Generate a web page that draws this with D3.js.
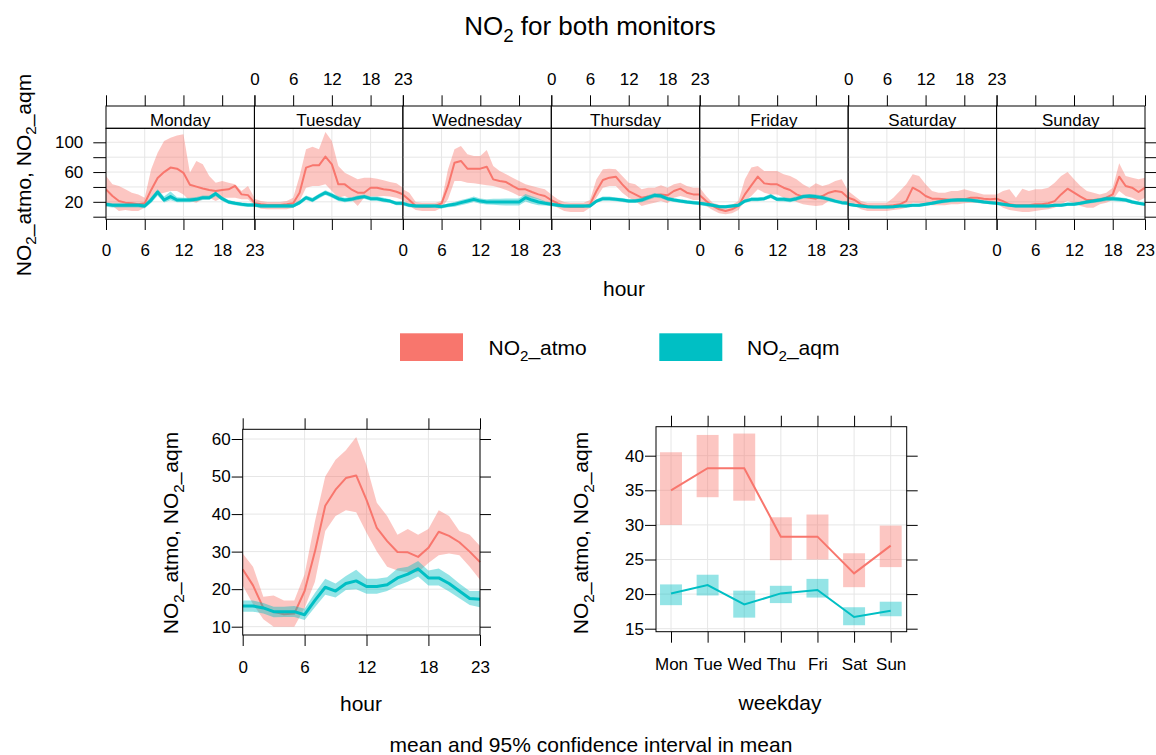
<!DOCTYPE html>
<html>
<head>
<meta charset="utf-8">
<title>NO2 for both monitors</title>
<script src="https://d3js.org/d3.v7.min.js"></script>
<style>
  * { margin: 0; padding: 0; }
  body { background: #fff; }
  svg { display: block; font-family: "Liberation Sans", Arial, sans-serif; }
</style>
</head>
<body>
<div id="chart"></div>
<script>
// ---- data ----
const days = ["Monday", "Tuesday", "Wednesday", "Thursday", "Friday", "Saturday", "Sunday"];
const dayAbbr = ["Mon", "Tue", "Wed", "Thu", "Fri", "Sat", "Sun"];
const hourTicks = [0, 6, 12, 18, 23];
const seriesNames = ["atmo", "aqm"];
const colors = { atmo: "#F8766D", aqm: "#00BFC4" };

// hour-of-week: one row of 24 hourly values per weekday
const atmoMean = [
  [36.8,27.8,21,18.9,18,16.6,18,36,52,60,66,64.6,59,43,40.4,38,35.9,34.5,35.9,36.8,41.3,30,29,18.9],
  [18,16.6,15.7,15.7,15.7,16.6,18,32.3,65.9,69,69,80.7,70.4,43.5,43.5,36.8,32.3,32.3,39,39,36.8,35.9,33.6,30],
  [30,22.4,14.4,13.5,13.5,14.4,18,41.3,72.6,74.9,64.6,64.6,64.6,67.2,50.2,48,46.6,41.3,36.8,36.8,33.2,30,27.8,22.4],
  [22.4,18,14.4,13.5,13.5,13.5,16.6,34.5,49.3,52.5,53.8,43.5,34.5,30,25.6,27,28.7,30,28.7,34.5,37.7,32.3,30,30],
  [28.7,21,14.4,9.9,7.7,9.9,14.4,30,42.2,53.8,44.8,43.5,43.5,39,35.9,30,27,25.6,24.2,27.8,32.3,34.5,33.2,25.6],
  [25.6,22.4,16.6,14.4,13.5,13.5,14.4,15.3,16.6,21,39,34.5,27.8,24.2,24.2,23.3,22.4,23.3,23.3,25.6,25.6,24.2,23.3,24.2],
  [24.2,21,16.6,15.3,15.3,15.3,16.6,16.6,18,21,30,37.7,32.3,27,22.4,22.4,23.3,25.6,30,53.8,41.3,39,33.2,39]
];
const atmoLo = [
  [18.9,14.4,7.7,9,7.7,7.7,12.1,21,30,32.3,34.5,34.5,30,21,18.9,23.3,25.6,21,25.6,25.6,25.6,23.3,23.3,15.3],
  [14.4,10.8,9.9,9.9,9.9,9.9,12.1,21,39,41.3,41.3,43.5,34.5,25.6,27.8,23.3,14.4,25.6,27,27,27.8,27,25.6,22.4],
  [23.3,14.4,9,7.7,7.7,7.7,12.1,23.3,48,48,45.7,45,43.5,42.2,41.3,39,35.9,32.3,27.8,27,25.6,23.3,19.8,15.3],
  [16.6,12.1,7.7,6.3,6.3,6.3,12.1,25.6,39,41.3,41.3,32.3,25.6,21,14.4,16.6,18.9,21,18,25.6,27.8,25.6,22.4,22.4],
  [21,14.4,9,4.5,3.2,4.5,9,21,27.8,36.8,32.3,30,30,25.6,23.3,19.8,16.6,15.3,14.4,15.3,21,23.3,21,18],
  [18,14.4,9.9,7.7,7.7,7.7,7.7,9,9.9,12.1,18.9,18,16.6,15.3,15.3,15.3,16.6,16.6,18,18.9,18.9,18,18,18],
  [18,12.1,9,7.7,6.3,6.3,7.7,9,9.9,12.1,16.6,21,18,14.4,12.1,12.1,16.6,18.9,22.4,34.5,27.8,25.6,21,25.6]
];
const atmoHi = [
  [54.7,43.5,41.3,36.8,32.3,30,25.6,63.7,86,101.7,106,109,110.7,59,74.9,70.4,54.7,45.7,48,45.7,43.5,34.5,41.3,25.6],
  [24.2,21,19.8,19.8,19.8,21,25.6,54.7,90.5,94,90.5,113.8,101.7,68.1,59,54.7,50.2,52.5,52.5,51.1,48.9,46.6,44.8,39],
  [36.8,32.3,19.8,18.9,18.9,18.9,21,63.7,90.5,95,83.8,81.6,81.6,89.6,68.1,61.4,56.9,52.5,48,43.5,41.3,39,36.8,30],
  [30,23.3,19.8,18.9,18.9,18.9,22.4,50.2,63.7,64.6,63.7,54.7,45.7,43.5,36.8,39,39,42.2,39,43.5,45.7,41.3,39,39],
  [39,27.8,18.9,16,14.4,16,21,50.2,66,68.1,61.4,61.4,61.4,56.9,54.7,50.2,43.5,39,44.8,41.3,43.5,48,50.2,34.5],
  [34.5,27.8,21,18.9,18.9,18.9,18.9,25.6,34.5,43.5,56.9,54.7,43.5,34.5,32.3,32.3,34.5,34.5,36.8,34.5,32.3,30,30,30],
  [30,34.5,36.8,25.6,37.7,34.5,36.8,36.8,39,45.7,54.7,60.1,50.2,41.3,34.5,32.3,30,32.3,39,71.7,54.7,52.5,50.2,52.5]
];
const aqmMean = [
  [16.6,15.3,15.3,15.3,15.3,15.3,14.4,22.4,33.2,22.4,27,22.4,22.4,22.4,23.3,25.6,25.6,31,24.2,19.8,18,16.6,15.7,15.7],
  [15.7,14.4,14.4,14.4,14.4,14.4,14.4,18.9,25.6,22.4,27.8,32.3,28.7,24.2,22.4,23.3,25.6,27,24.2,24.2,22.4,21,18,18],
  [18,15.3,14.4,14.4,14.4,14.4,13.5,15.3,16.6,18.9,21,23.3,21,19.8,19.8,19.8,19.8,19.8,19.8,25.6,22.4,19.8,18,16.6],
  [16.6,15.3,14.4,14.4,14.4,14.4,14.4,21,24.2,24.2,23.3,22.4,21,21,22.4,25.6,28.7,27.8,24.2,22.4,21,19.8,18.9,18],
  [18,16.6,15.3,13.5,13.5,14.4,15.3,21,23.3,23.3,24.2,27.8,23.3,23.3,22.4,24.2,27,27.8,27,25.6,23.3,21,18.9,18],
  [16.6,15.3,14.4,13.5,13,13,13,13.5,14.4,14.4,15.3,15.3,16.6,18,19.8,21,22,22.4,22.4,22,21,19.8,18.9,18],
  [18,16.6,15.3,14.4,14.4,14.4,14.4,14.4,14.4,15.3,15.3,16.6,16.6,18,19.8,21,22.4,24.2,24.2,23.3,22.4,19.8,18,16.6]
];
const aqmLo = [
  [13.5,12.5,12.5,12.5,12.5,12.5,11.5,18.5,28,19,22,19.5,19.5,19.5,20.5,22.5,22.5,27.5,21,17,15.5,14,13,13],
  [13,12,12,12,12,12,12,16,22.5,19.5,24.5,29,25.5,21,19.5,20.5,22.5,24,21.5,21.5,19.5,18.5,15.5,15.5],
  [15,12.8,12,12,12,12,11,12.8,13.5,15.5,17.5,19.8,17.5,16.5,16,15.5,15.2,15,15,20.5,17.5,15.5,15,14],
  [14,13,12,12,12,12,12,18.5,21.5,21.5,20.8,19.8,18.5,18.3,19.5,22.5,25.5,24.8,21.5,19.8,18.5,17.3,16.5,15.5],
  [15.5,14.2,13,11.3,11.3,12.1,13,18.5,20.8,20.8,21.7,24.8,20.8,20.5,19.5,21.4,24.2,25,24.2,22.8,20.6,18.5,16.4,15.5],
  [14.4,13.2,12.3,11.5,11,11,11,11.5,12.3,12.3,13.2,13.2,14.4,15.6,17.3,18.4,19.3,19.7,19.7,19.4,18.5,17.4,16.6,15.8],
  [15.6,14.4,13.2,12.4,12.4,12.4,12.4,12.4,12.4,13.2,13.2,14.4,14.4,15.6,17.3,18.4,19.6,21.2,21.2,20.4,19.6,17.3,15.6,14.4]
];
const aqmHi = [
  [19.5,18,18,18,18,18,17.5,26.5,37,27,34,26,25.5,25.5,26.5,28.5,28.5,34,27,22.5,20.5,19.2,18.4,18.4],
  [18.5,17,17,17,17,17,17,22,28.5,25.5,31,35.5,32,27.5,25.5,26,28.5,30,27,27,25.5,23.5,20.5,20.5],
  [21,17.8,16.8,16.8,16.8,16.8,16,17.8,19.7,22.3,24.5,27,24.5,23.5,24,24.2,24.4,24.6,24.6,30.5,27.5,24.5,21,19.2],
  [19.2,17.6,16.8,16.8,16.8,16.8,16.8,23.5,27,27,25.8,25,23.5,23.7,25.3,28.7,31.9,30.8,26.9,25,23.5,22.3,21.3,20.5],
  [20.5,19,17.6,15.7,15.7,16.7,17.6,23.5,25.8,25.8,26.7,30.8,25.8,26.1,25.3,27,29.8,30.6,29.8,28.4,26,23.5,21.4,20.5],
  [18.8,17.4,16.5,15.5,15,15,15,15.5,16.5,16.5,17.4,17.4,18.8,20.4,22.3,23.6,24.7,25.1,25.1,24.6,23.5,22.2,21.2,20.2],
  [20.4,18.8,17.4,16.4,16.4,16.4,16.4,16.4,16.4,17.4,17.4,18.8,18.8,20.4,22.3,23.6,25.2,27.2,27.2,26.2,25.2,22.3,20.4,18.8]
];

// diurnal (hour of day)
const hourAtmoMean = [25.3,21,15,14,13.3,13.5,19.5,30,42.2,46.5,49.6,50.3,43.8,36.3,32.8,29.9,29.8,28.6,31,35.3,34.2,32.5,30,27.2];
const hourAtmoLo   = [21,16,12,10,10,10,15,22,35.5,39.5,41,40.5,35,30,26,25,24.5,24.5,27,29,29.5,29,26,22.5];
const hourAtmoHi   = [29.5,26,18,18.3,17,17,24,38,50,54.5,57,60.5,53,43,39.5,34.5,36,34.5,36,41,39.5,35.5,34.5,31.5];
const hourAqmMean  = [15.5,15.5,15,14,14,14,13.2,17,20.5,19.5,21.5,22.2,20.7,20.7,21.2,23,24,25.4,23,23,21.5,19.5,17.5,17.3];
const hourAqmLo    = [14,14,13.5,12.5,12.6,12.6,11.8,15.2,18.5,17.8,19.8,20,18.8,18.8,19.5,21,22,23.4,21,21,19.4,17.6,15.8,15.2];
const hourAqmHi    = [17,17,16.3,15.3,15.3,15.5,14.8,19,22.8,21.5,23.5,25.2,22.8,22.8,23.2,25.5,26,27.5,25,25.5,23.8,21.5,19.5,19.5];

// weekday means
const wdAtmoMean = [35, 38.2, 38.2, 28.3, 28.3, 23, 27];
const wdAtmoLo   = [30, 34, 33.5, 24.9, 25, 21, 23.9];
const wdAtmoHi   = [40.5, 43, 43.2, 31.1, 31.5, 25.9, 29.9];
const wdAqmMean  = [20.1, 21.3, 18.5, 20.1, 20.6, 16.7, 17.6];
const wdAqmLo    = [18.4, 19.8, 16.6, 18.7, 19.5, 15.5, 16.8];
const wdAqmHi    = [21.4, 22.8, 20.5, 21.2, 22.2, 18.1, 18.9];

// ---- drawing ----
const W = 1156, H = 755;
const TICK_FS = 17, LAB_FS = 21;
const GRID = "#e6e6e6";
const BAND_OPACITY = 0.42;

const svg = d3.select("#chart").append("svg")
  .attr("width", W).attr("height", H);

// text with NO2-style subscripts; parts: [text, isSub]
function richText(sel, parts, fs) {
  let shifted = false;
  parts.forEach(([t, sub]) => {
    const ts = sel.append("tspan").text(t);
    if (sub) {
      ts.attr("font-size", fs * 0.72).attr("dy", fs * 0.28);
      shifted = true;
    } else if (shifted) {
      ts.attr("dy", -fs * 0.28);
      shifted = false;
    }
  });
  return sel;
}
const yLabParts = [["NO"], ["2", true], ["_atmo, NO"], ["2", true], ["_aqm"]];

function styleAxis(g) {
  g.select(".domain").remove();
  g.selectAll(".tick line").attr("stroke", "#000");
  g.selectAll(".tick text").attr("fill", "#000").attr("font-size", TICK_FS)
    .attr("font-family", "Liberation Sans, Arial, sans-serif");
}

function drawSeries(g, xs, ys, mean, lo, hi, color, lw) {
  const area = d3.area()
    .x((d, i) => xs(i)).y0((d, i) => ys(lo[i])).y1((d, i) => ys(hi[i]));
  const line = d3.line().x((d, i) => xs(i)).y(d => ys(d));
  g.append("path").datum(mean).attr("d", area)
    .attr("fill", color).attr("fill-opacity", BAND_OPACITY).attr("stroke", "none");
  g.append("path").datum(mean).attr("d", line)
    .attr("fill", "none").attr("stroke", color).attr("stroke-width", lw)
    .attr("stroke-linejoin", "round");
}

// title
richText(svg.append("text").attr("x", 590).attr("y", 35).attr("text-anchor", "middle")
  .attr("font-size", 26), [["NO"], ["2", true], [" for both monitors"]], 26);

// ===== top: hour of week =====
const TL = 106, TR = 1145, STRIP_T = 106, PT = 128.3, PB = 219.3;
const pw = (TR - TL) / 7;
const topY = d3.scaleLinear().domain([0, 100]).range([216.7, 142.3]);
const topYTicks = [0, 20, 40, 60, 80, 100];
const weekData = { atmo: [atmoMean, atmoLo, atmoHi], aqm: [aqmMean, aqmLo, aqmHi] };

days.forEach((day, i) => {
  const x0 = TL + i * pw;
  const xs = d3.scaleLinear().domain([0, 23]).range([x0, x0 + pw]);
  const g = svg.append("g");

  g.selectAll(".hg").data(topYTicks).join("line")
    .attr("x1", x0).attr("x2", x0 + pw)
    .attr("y1", d => topY(d)).attr("y2", d => topY(d))
    .attr("stroke", GRID);
  g.selectAll(".vg").data(hourTicks).join("line")
    .attr("x1", d => xs(d)).attr("x2", d => xs(d))
    .attr("y1", PT).attr("y2", PB)
    .attr("stroke", GRID);

  const clipId = "clip" + i;
  svg.append("clipPath").attr("id", clipId).append("rect")
    .attr("x", x0).attr("y", PT).attr("width", pw).attr("height", PB - PT);
  const dg = g.append("g").attr("clip-path", `url(#${clipId})`);
  seriesNames.forEach(s => {
    const [m, lo, hi] = weekData[s];
    drawSeries(dg, xs, topY, m[i], lo[i], hi[i], colors[s], s === "aqm" ? 3 : 2);
  });

  // strip
  const sId = "sclip" + i;
  svg.append("clipPath").attr("id", sId).append("rect")
    .attr("x", x0).attr("y", STRIP_T).attr("width", pw).attr("height", PT - STRIP_T);
  g.append("text").attr("clip-path", `url(#${sId})`)
    .attr("x", x0 + pw / 2).attr("y", 126).attr("text-anchor", "middle")
    .attr("font-size", TICK_FS).attr("fill", "#000").text(day);
  g.append("rect").attr("x", x0).attr("y", STRIP_T).attr("width", pw).attr("height", PT - STRIP_T)
    .attr("fill", "none").attr("stroke", "#000");
  g.append("rect").attr("x", x0).attr("y", PT).attr("width", pw).attr("height", PB - PT)
    .attr("fill", "none").attr("stroke", "#000");

  // x axes: labels alternate bottom / top
  g.append("g").attr("transform", `translate(0,${PB})`)
    .call(d3.axisBottom(xs).tickValues(hourTicks).tickSize(10.7).tickPadding(14)
      .tickFormat(d => i % 2 === 0 ? d : ""))
    .call(styleAxis);
  g.append("g").attr("transform", `translate(0,${STRIP_T})`)
    .call(d3.axisTop(xs).tickValues(hourTicks).tickSize(10.7).tickPadding(10)
      .tickFormat(d => i % 2 === 1 ? d : ""))
    .call(styleAxis);
});

svg.append("g").attr("transform", `translate(${TL},0)`)
  .call(d3.axisLeft(topY).tickValues(topYTicks).tickSize(12.7).tickPadding(10)
    .tickFormat(d => [20, 60, 100].includes(d) ? d : ""))
  .call(styleAxis);
svg.append("g").attr("transform", `translate(${TR},0)`)
  .call(d3.axisRight(topY).tickValues(topYTicks).tickSize(11).tickFormat(""))
  .call(styleAxis);

richText(svg.append("text").attr("transform", "translate(30.5,175) rotate(-90)")
  .attr("text-anchor", "middle").attr("font-size", LAB_FS), yLabParts, LAB_FS);
svg.append("text").attr("x", 624).attr("y", 296).attr("text-anchor", "middle")
  .attr("font-size", LAB_FS).text("hour");

// ===== legend =====
const legX = { atmo: [400, 488.5], aqm: [659.3, 747] };
seriesNames.forEach(s => {
  svg.append("rect").attr("x", legX[s][0]).attr("y", 333.3).attr("width", 63).attr("height", 27.7)
    .attr("fill", colors[s]);
  richText(svg.append("text").attr("x", legX[s][1]).attr("y", 355).attr("font-size", LAB_FS),
    [["NO"], ["2", true], ["_" + s]], LAB_FS);
});

// ===== bottom-left: hour of day =====
const B = { l: 242.7, r: 480, t: 429.3, b: 635 };
const hx = d3.scaleLinear().domain([0, 23]).range([B.l, B.r]);
const hy = d3.scaleLinear().domain([10, 60]).range([626.7, 439]);
const hyTicks = [10, 20, 30, 40, 50, 60];
{
  const g = svg.append("g");
  g.selectAll(".hg").data(hyTicks).join("line")
    .attr("x1", B.l).attr("x2", B.r).attr("y1", d => hy(d)).attr("y2", d => hy(d)).attr("stroke", GRID);
  g.selectAll(".vg").data(hourTicks).join("line")
    .attr("x1", d => hx(d)).attr("x2", d => hx(d)).attr("y1", B.t).attr("y2", B.b).attr("stroke", GRID);
  drawSeries(g, hx, hy, hourAtmoMean, hourAtmoLo, hourAtmoHi, colors.atmo, 2);
  drawSeries(g, hx, hy, hourAqmMean, hourAqmLo, hourAqmHi, colors.aqm, 3);
  g.append("rect").attr("x", B.l).attr("y", B.t).attr("width", B.r - B.l).attr("height", B.b - B.t)
    .attr("fill", "none").attr("stroke", "#000");
  g.append("g").attr("transform", `translate(0,${B.b})`)
    .call(d3.axisBottom(hx).tickValues(hourTicks).tickSize(11).tickPadding(15)).call(styleAxis);
  g.append("g").attr("transform", `translate(0,${B.t})`)
    .call(d3.axisTop(hx).tickValues(hourTicks).tickSize(11).tickFormat("")).call(styleAxis);
  g.append("g").attr("transform", `translate(${B.l},0)`)
    .call(d3.axisLeft(hy).tickValues(hyTicks).tickSize(11).tickPadding(1)).call(styleAxis);
  g.append("g").attr("transform", `translate(${B.r},0)`)
    .call(d3.axisRight(hy).tickValues(hyTicks).tickSize(11).tickFormat("")).call(styleAxis);
  richText(svg.append("text").attr("transform", "translate(178,533) rotate(-90)")
    .attr("text-anchor", "middle").attr("font-size", LAB_FS), yLabParts, LAB_FS);
  svg.append("text").attr("x", 361).attr("y", 711).attr("text-anchor", "middle")
    .attr("font-size", LAB_FS).text("hour");
}

// ===== bottom-right: weekday =====
const R = { l: 656, r: 906.7, t: 426.7, b: 631.7 };
const wx = d3.scaleLinear().domain([1, 7]).range([671, 890.7]);
const wy = d3.scaleLinear().domain([15, 40]).range([628.7, 455.7]);
const wyTicks = [15, 20, 25, 30, 35, 40];
const wdIdx = d3.range(1, 8);
{
  const g = svg.append("g");
  g.selectAll(".hg").data(wyTicks).join("line")
    .attr("x1", R.l).attr("x2", R.r).attr("y1", d => wy(d)).attr("y2", d => wy(d)).attr("stroke", GRID);
  g.selectAll(".vg").data(wdIdx).join("line")
    .attr("x1", d => wx(d)).attr("x2", d => wx(d)).attr("y1", R.t).attr("y2", R.b).attr("stroke", GRID);
  const wd = {
    atmo: [wdAtmoMean, wdAtmoLo, wdAtmoHi],
    aqm: [wdAqmMean, wdAqmLo, wdAqmHi]
  };
  const half = 0.3;
  seriesNames.forEach(s => {
    const [m, lo, hi] = wd[s];
    g.selectAll(".box-" + s).data(m).join("rect")
      .attr("x", (d, i) => wx(i + 1 - half))
      .attr("width", (d, i) => wx(i + 1 + half) - wx(i + 1 - half))
      .attr("y", (d, i) => wy(hi[i]))
      .attr("height", (d, i) => wy(lo[i]) - wy(hi[i]))
      .attr("fill", colors[s]).attr("fill-opacity", BAND_OPACITY);
    g.append("path").datum(m)
      .attr("d", d3.line().x((d, i) => wx(i + 1)).y(d => wy(d)))
      .attr("fill", "none").attr("stroke", colors[s]).attr("stroke-width", 2);
  });
  g.append("rect").attr("x", R.l).attr("y", R.t).attr("width", R.r - R.l).attr("height", R.b - R.t)
    .attr("fill", "none").attr("stroke", "#000");
  g.append("g").attr("transform", `translate(0,${R.b})`)
    .call(d3.axisBottom(wx).tickValues(wdIdx).tickSize(11).tickPadding(15)
      .tickFormat(d => dayAbbr[d - 1])).call(styleAxis);
  g.append("g").attr("transform", `translate(0,${R.t})`)
    .call(d3.axisTop(wx).tickValues(wdIdx).tickSize(11).tickFormat("")).call(styleAxis);
  g.append("g").attr("transform", `translate(${R.l},0)`)
    .call(d3.axisLeft(wy).tickValues(wyTicks).tickSize(11).tickPadding(1)).call(styleAxis);
  g.append("g").attr("transform", `translate(${R.r},0)`)
    .call(d3.axisRight(wy).tickValues(wyTicks).tickSize(11).tickFormat("")).call(styleAxis);
  richText(svg.append("text").attr("transform", "translate(588,533) rotate(-90)")
    .attr("text-anchor", "middle").attr("font-size", LAB_FS), yLabParts, LAB_FS);
  svg.append("text").attr("x", 780).attr("y", 710).attr("text-anchor", "middle")
    .attr("font-size", LAB_FS).text("weekday");
}

svg.append("text").attr("x", 591).attr("y", 752).attr("text-anchor", "middle")
  .attr("font-size", LAB_FS).text("mean and 95% confidence interval in mean");
</script>
</body>
</html>
